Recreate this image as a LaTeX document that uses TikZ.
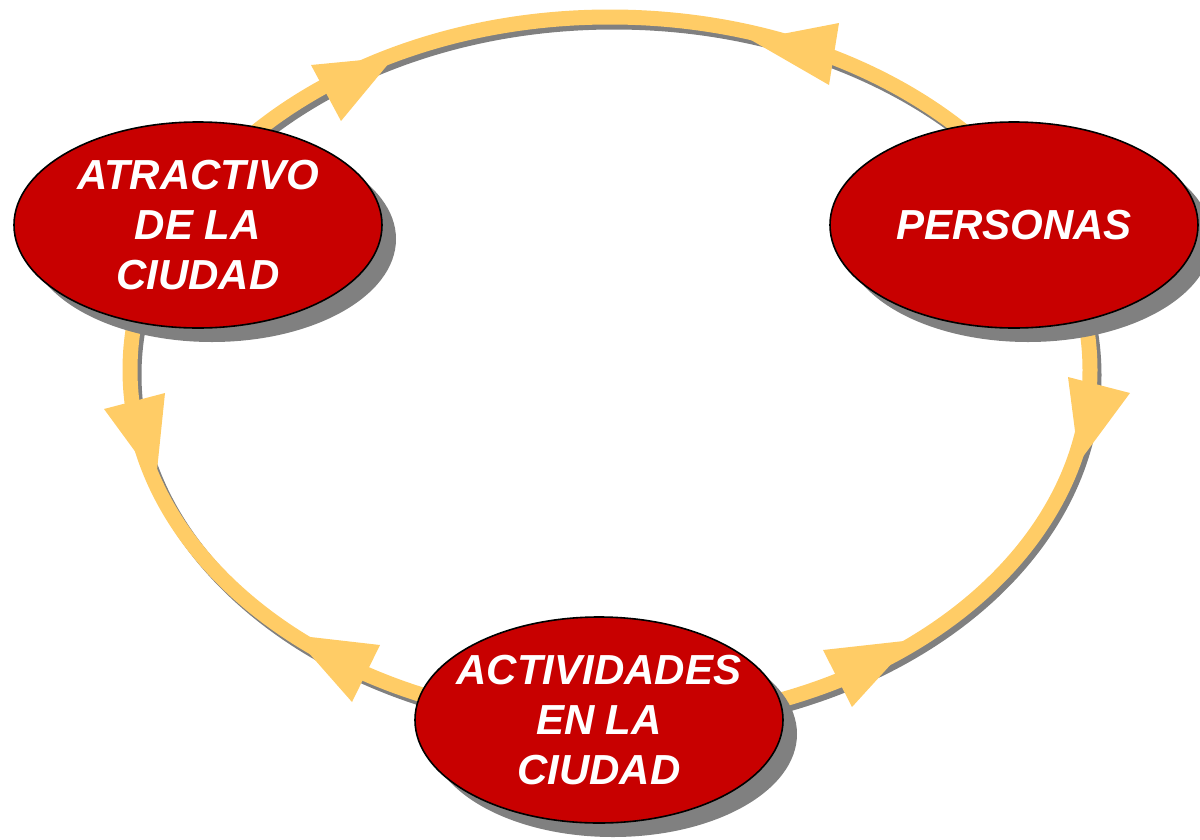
\documentclass[tikz,border=0pt]{standalone}
\usepackage{fontspec}
\setmainfont{Liberation Sans}
\usetikzlibrary{shapes.geometric,shadows}
\definecolor{nodered}{RGB}{200,0,0}
\definecolor{ringyellow}{RGB}{255,204,102}
\definecolor{shadowgray}{RGB}{128,128,128}
\begin{document}
\begin{tikzpicture}[x=1pt,y=-1pt,
  bubble/.style={ellipse, draw=black, line width=1.6pt, fill=nodered,
    minimum width=368pt, minimum height=206pt, inner ysep=0pt, inner xsep=-25pt, text=white,
    font=\fontsize{42}{50}\selectfont\bfseries\itshape, align=center,
    drop shadow={shadow xshift=14pt, shadow yshift=-14pt, fill=shadowgray, opacity=1}},
  ring/.style={draw=ringyellow, line width=15pt},
  ringshadow/.style={draw=shadowgray, line width=15pt},
  head/.style={fill=ringyellow}]
\useasboundingbox (0,0) rectangle (1200,839);
% ring with shadow
\draw[ringshadow] (614,375) ellipse [x radius=480, y radius=353];
\draw[ring] (610,370) ellipse [x radius=480, y radius=353];
% arrowheads
\fill[head] (311,65) -- (394,57) -- (341,121) -- cycle;
\fill[head] (839,23) -- (751,40) -- (829,85) -- cycle;
\fill[head] (1068,377) -- (1079,462) -- (1130,393) -- cycle;
\fill[head] (104,409) -- (156,480) -- (165,393) -- cycle;
\fill[head] (380,645) -- (293,635) -- (352,702) -- cycle;
\fill[head] (823,650) -- (913,640) -- (852,707) -- cycle;
% nodes
\node[bubble] (atr) at (198,225) {ATRACTIVO\\DE LA\\CIUDAD};
\node[bubble] (per) at (1014,225) {PERSONAS};
\node[bubble] (act) at (599,720) {ACTIVIDADES\\EN LA\\CIUDAD};
\end{tikzpicture}
\end{document}
